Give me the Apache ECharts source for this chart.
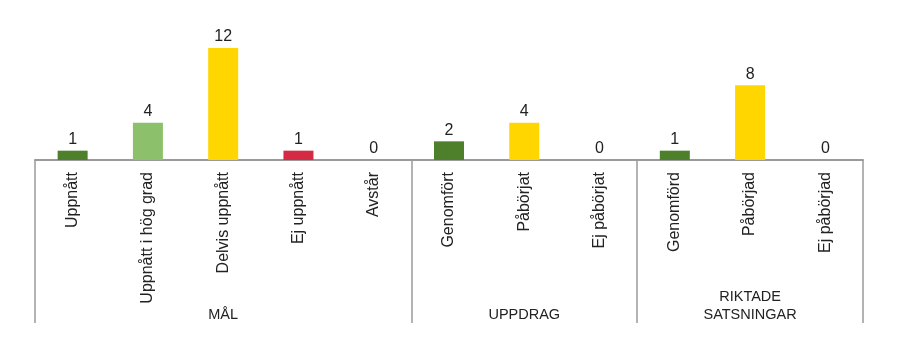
<!DOCTYPE html>
<html>
<head>
<meta charset="utf-8">
<script src="https://cdn.jsdelivr.net/npm/echarts@6/dist/echarts.min.js"></script>
<style>
  html, body { margin: 0; padding: 0; background: #fff; }
  #chart { width: 900px; height: 362px; }
</style>
</head>
<body>
<div id="chart"></div>
<script>
const categories = ['Uppnått', 'Uppnått i hög grad', 'Delvis uppnått', 'Ej uppnått', 'Avstår',
  'Genomfört', 'Påbörjat', 'Ej påbörjat',
  'Genomförd', 'Påbörjad', 'Ej påbörjad']
const values = [1, 4, 12, 1, 0, 2, 4, 0, 1, 8, 0]
const barColors = ['#4e7f2a', '#8cc06b', '#ffd600', '#d42a43', '#ffd600',
  '#4e7f2a', '#ffd600', '#ffd600',
  '#4e7f2a', '#ffd600', '#ffd600']
const groupNames = ['MÅL', 'UPPDRAG', 'RIKTADE\nSATSNINGAR']
const groupCenters = [2.5, 6.5, 9.5]
const groupBounds = [0, 5, 8, 11]

const chart = echarts.init(document.getElementById('chart'))

// grupp-etiketter via ett osynligt värdeaxel
const option = {
  animation: false,
  textStyle: { fontFamily: 'Liberation Sans, Arial, sans-serif' },
  grid: { left: 35, right: 37, top: 48, bottom: 202 },
  xAxis: [
    {
      type: 'category',
      data: categories,
      axisLine: { lineStyle: { color: '#9a9a9a', width: 2 } },
      axisTick: { show: false },
      axisLabel: { rotate: 90, fontSize: 16, color: '#222', margin: 12, interval: 0 },
    },
    {
      type: 'value',
      min: 0,
      max: 11,
      position: 'bottom',
      axisLine: { show: false },
      splitLine: { show: false },
      axisTick: {
        show: true,
        customValues: groupBounds,
        length: 163,
        lineStyle: { color: '#9a9a9a', width: 1.5 },
      },
      axisLabel: {
        customValues: groupCenters,
        formatter: (v) => groupNames[groupCenters.indexOf(v)],
        margin: 164,
        verticalAlign: 'bottom',
        fontSize: 14.5,
        lineHeight: 18,
        color: '#222',
        align: 'center',
      },
    },
  ],
  yAxis: {
    type: 'value',
    min: 0,
    max: 12,
    show: false,
  },
  series: [
    {
      type: 'bar',
      xAxisIndex: 0,
      barWidth: 30,
      data: values.map((v, i) => ({ value: v, itemStyle: { color: barColors[i] } })),
      label: {
        show: true,
        position: 'top',
        distance: 3,
        fontSize: 16,
        color: '#222',
      },
    },
  ],
}
chart.setOption(option)
</script>
</body>
</html>
